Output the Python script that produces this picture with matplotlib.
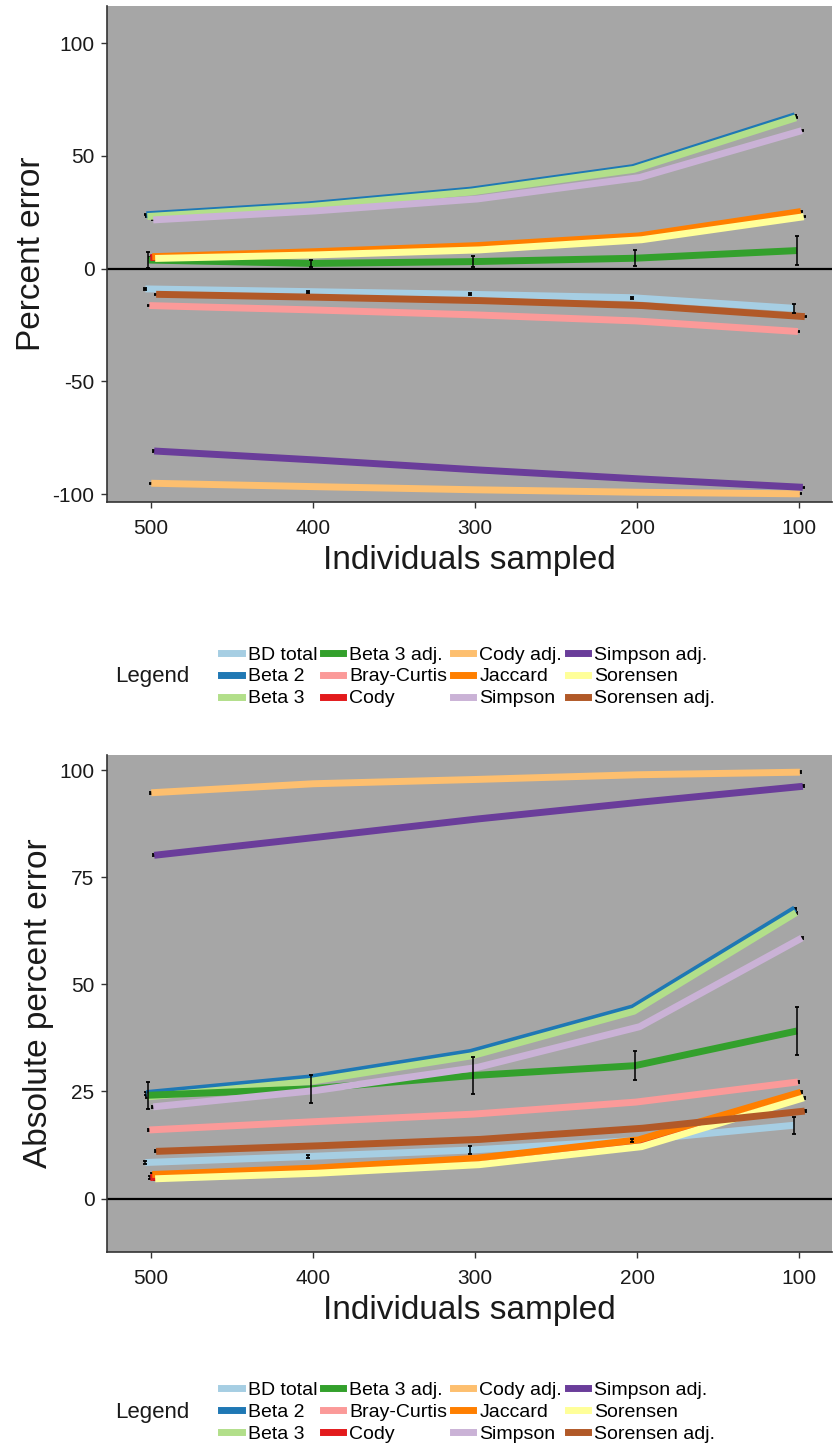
"""
Percent error and absolute percent error of beta diversity indices
against the number of individuals sampled
"""
import matplotlib
matplotlib.use("Agg")
import matplotlib.pyplot as plt
from matplotlib.lines import Line2D

plt.rcParams['font.family'] = ['Liberation Sans', 'DejaVu Sans']
plt.rcParams['axes.unicode_minus'] = False

sampled = [500, 400, 300, 200, 100]

indices = [
    "BD total", "Beta 2", "Beta 3", "Beta 3 adj.",
    "Bray-Curtis", "Cody", "Cody adj.", "Jaccard",
    "Simpson", "Simpson adj.", "Sorensen", "Sorensen adj.",
]
# Paired palette, one colour per index
colors = [
    "#A6CEE3", "#1F78B4", "#B2DF8A", "#33A02C",
    "#FB9A99", "#E31A1C", "#FDBF6F", "#FF7F00",
    "#CAB2D6", "#6A3D9A", "#FFFF99", "#B15928",
]

# percent error (signed)
pe_bd_total = [-9.0, -10.2, -11.4, -12.9, -17.6]
pe_beta2 = [23.9, 28.3, 34.8, 44.8, 67.8]
pe_beta3 = [23.1, 27.5, 34.0, 44.0, 66.9]
pe_beta3_adj = [3.8, 2.3, 3.1, 4.6, 8.0]
pe_bray_curtis = [-16.4, -18.3, -20.5, -23.2, -27.9]
pe_cody = [4.9, 6.8, 9.3, 13.6, 24.2]
pe_cody_adj = [-95.2, -96.7, -98.1, -99.2, -99.9]
pe_jaccard = [5.3, 7.5, 10.2, 14.5, 25.3]
pe_simpson = [21.6, 25.6, 30.9, 40.4, 61.2]
pe_simpson_adj = [-80.9, -84.9, -89.3, -93.3, -97.0]
pe_sorensen = [4.5, 6.1, 8.3, 12.8, 23.0]
pe_sorensen_adj = [-11.4, -12.7, -14.2, -16.4, -21.3]

# absolute percent error
ape_bd_total = [8.4, 9.8, 11.3, 13.5, 17.1]
ape_beta2 = [24.5, 28.1, 34.1, 44.5, 67.6]
ape_beta3 = [23.7, 27.3, 33.3, 43.7, 66.7]
ape_beta3_adj = [24.1, 25.6, 28.7, 31.0, 39.1]
ape_bray_curtis = [16.0, 17.9, 19.7, 22.5, 27.2]
ape_cody = [4.9, 6.5, 8.6, 12.9, 24.0]
ape_cody_adj = [94.7, 96.8, 97.8, 98.9, 99.5]
ape_jaccard = [5.6, 7.1, 9.4, 13.7, 24.8]
ape_simpson = [21.4, 25.2, 30.6, 40.1, 60.8]
ape_simpson_adj = [80.1, 84.3, 88.6, 92.5, 96.2]
ape_sorensen = [4.6, 5.9, 7.9, 12.1, 23.5]
ape_sorensen_adj = [11.0, 12.3, 13.8, 16.4, 20.4]

# standard errors (most are tiny)
small_se = [0.25, 0.25, 0.25, 0.25, 0.25]
pe_se_bd_total = [0.4, 0.4, 0.4, 0.4, 2.0]
pe_se_beta3_adj = [3.5, 1.5, 2.5, 3.5, 6.4]
ape_se_bd_total = [0.4, 0.4, 1.0, 0.4, 2.0]
ape_se_beta3_adj = [3.1, 3.2, 4.3, 3.4, 5.6]

pe_values = [pe_bd_total, pe_beta2, pe_beta3, pe_beta3_adj, pe_bray_curtis,
             pe_cody, pe_cody_adj, pe_jaccard, pe_simpson, pe_simpson_adj,
             pe_sorensen, pe_sorensen_adj]
ape_values = [ape_bd_total, ape_beta2, ape_beta3, ape_beta3_adj,
              ape_bray_curtis, ape_cody, ape_cody_adj, ape_jaccard,
              ape_simpson, ape_simpson_adj, ape_sorensen, ape_sorensen_adj]
pe_errors = [pe_se_bd_total, small_se, small_se, pe_se_beta3_adj] + [small_se] * 8
ape_errors = [ape_se_bd_total, small_se, small_se, ape_se_beta3_adj] + [small_se] * 8

PANEL_BG = "#A6A6A6"
TEXT_COL = "#1a1a1a"


def draw_panel(ax, values, errors, ylabel, yticks, ylim):
    """
    Lines with error bars, dodged a little along x
    """
    ax.set_facecolor(PANEL_BG)
    n = len(indices)
    for i in range(n):
        shift = (n / 2 - 0.5 - i) * 0.6
        xs = [x + shift for x in sampled]
        ax.plot(xs, values[i], color=colors[i], lw=5, solid_capstyle='butt',
                zorder=2 + i * 0.01)
        # tiny error bars sit under the lines, only the wide ones stand out
        z = 3 if max(errors[i]) > 1 else 1.9
        ax.errorbar(xs, values[i], yerr=errors[i], fmt='none', ecolor='black',
                    elinewidth=1.1, capsize=1.6, capthick=1.3, zorder=z)
    ax.axhline(0, color='black', lw=1.6, zorder=2.5)

    ax.set_xlim(527, 80)
    ax.set_ylim(*ylim)
    ax.set_xticks(sampled)
    ax.set_yticks(yticks)
    ax.tick_params(labelsize=15, colors='#333333', labelcolor=TEXT_COL,
                   length=4, width=1, pad=5)
    ax.tick_params(axis='x', pad=8)
    ax.set_xlabel('Individuals sampled', fontsize=24, color=TEXT_COL,
                  labelpad=5)
    ax.set_ylabel(ylabel, fontsize=24, color=TEXT_COL, labelpad=4)
    ax.spines['top'].set_visible(False)
    ax.spines['right'].set_visible(False)
    for side in ('left', 'bottom'):
        ax.spines[side].set_color('#333333')
        ax.spines[side].set_linewidth(1.2)


def add_legend(fig, y_center):
    handles = [Line2D([0], [0], color=c, lw=5) for c in colors]
    fig.legend(handles, indices, loc='center', bbox_to_anchor=(0.56, y_center),
               ncol=4, frameon=False, fontsize=14, handlelength=1.05,
               handletextpad=0.3, columnspacing=0.3, labelspacing=0.22,
               borderpad=0)
    fig.text(0.138, y_center, 'Legend', fontsize=16, color=TEXT_COL,
             ha='left', va='center')


fig = plt.figure(figsize=(8.36, 14.52), dpi=100)

ax_top = fig.add_axes([0.128, 0.6543, 0.867, 0.3416])
draw_panel(ax_top, pe_values, pe_errors, 'Percent error',
           [-100, -50, 0, 50, 100], (-103.5, 116.5))
add_legend(fig, 0.534)

ax_bot = fig.add_axes([0.128, 0.1377, 0.867, 0.3423])
draw_panel(ax_bot, ape_values, ape_errors, 'Absolute percent error',
           [0, 25, 50, 75, 100], (-12.5, 103.5))
add_legend(fig, 0.0275)

fig.savefig('out.png', dpi=100)
